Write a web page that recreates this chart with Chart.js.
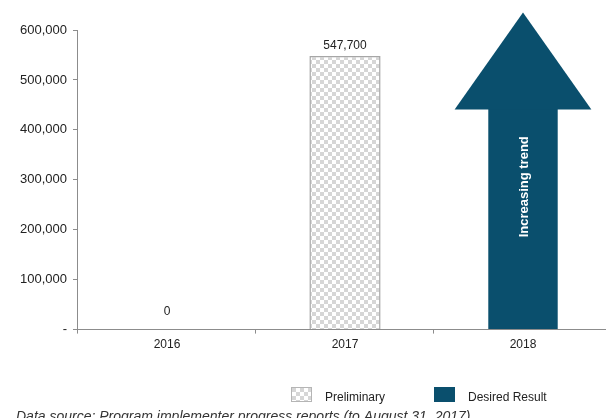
<!DOCTYPE html>
<html>
<head>
<meta charset="utf-8">
<script src="https://cdn.jsdelivr.net/npm/chart.js@4.4.1/dist/chart.umd.min.js"></script>
<style>
  html, body { margin: 0; padding: 0; background: #fff; }
  #wrap { width: 606px; height: 418px; position: relative; overflow: hidden; }
</style>
</head>
<body>
<div id="wrap"><canvas id="results-chart" width="612" height="418"></canvas></div>
<script>
// categories and values
const years = ['2016', '2017', '2018'];
const preliminary = [0, 547700, null];
const desiredShaft = [null, null, 442000];   // body of the trend arrow
const desiredHeadTop = 635000;               // tip of the trend arrow
const yTicks = [0, 100000, 200000, 300000, 400000, 500000, 600000];

const FONT = '"Liberation Sans", Arial, sans-serif';
const DARK = '#0a4f6d';

// grey / white checkerboard fill for the preliminary bars
function checkerPattern() {
    const c = document.createElement('canvas');
    c.width = 8; c.height = 8;
    const g = c.getContext('2d');
    g.fillStyle = '#ffffff';
    g.fillRect(0, 0, 8, 8);
    g.fillStyle = '#d6d6d6';
    g.fillRect(0, 0, 4, 4);
    g.fillRect(4, 4, 4, 4);
    return g.createPattern(c, 'repeat');
}
const checker = checkerPattern();

const fmt = v => v.toLocaleString('en-US');

// value labels above the preliminary bars
const valueLabels = {
    id: 'valueLabels',
    afterDatasetsDraw(chart) {
        const ctx = chart.ctx;
        const meta = chart.getDatasetMeta(0);
        ctx.save();
        ctx.font = '12px ' + FONT;
        ctx.fillStyle = '#222';
        ctx.textAlign = 'center';
        ctx.textBaseline = 'middle';
        meta.data.forEach((bar, i) => {
            const v = preliminary[i];
            if (v === null) return;
            const off = v === 0 ? 18 : 10;
            ctx.fillText(fmt(v), bar.x, bar.y - off);
        });
        ctx.restore();
    }
};

// arrow head on top of the desired-result bar, plus its caption
const trendArrow = {
    id: 'trendArrow',
    afterDatasetsDraw(chart) {
        const ctx = chart.ctx;
        const y = chart.scales.y;
        const meta = chart.getDatasetMeta(1);
        meta.data.forEach((bar, i) => {
            if (desiredShaft[i] === null) return;
            const half = bar.width / 2;
            const base = y.getPixelForValue(desiredShaft[i]);
            const tip = y.getPixelForValue(desiredHeadTop);
            ctx.save();
            ctx.fillStyle = DARK;
            ctx.beginPath();
            ctx.moveTo(bar.x - half * 1.97, base + 0.5);
            ctx.lineTo(bar.x, tip);
            ctx.lineTo(bar.x + half * 1.97, base + 0.5);
            ctx.closePath();
            ctx.fill();

            ctx.translate(bar.x + 1, y.getPixelForValue(286000));
            ctx.rotate(-Math.PI / 2);
            ctx.font = 'bold 13px ' + FONT;
            ctx.fillStyle = '#ffffff';
            ctx.textAlign = 'center';
            ctx.textBaseline = 'middle';
            ctx.fillText('Increasing trend', 0, 0);
            ctx.restore();
        });
    }
};

// legend and source note under the chart
const footer = {
    id: 'footer',
    afterDraw(chart) {
        const ctx = chart.ctx;
        ctx.save();
        const ds = chart.data.datasets;
        const items = [
            { x: 291, label: ds[0].label, fill: ds[0].backgroundColor, border: '#b5b5b5' },
            { x: 434, label: ds[1].label, fill: ds[1].backgroundColor, border: DARK }
        ];
        ctx.font = '12px ' + FONT;
        ctx.textBaseline = 'middle';
        items.forEach(it => {
            ctx.fillStyle = it.fill;
            ctx.fillRect(it.x, 387, 21, 15);
            ctx.strokeStyle = it.border;
            ctx.lineWidth = 1;
            ctx.strokeRect(it.x + 0.5, 387.5, 20, 14);
            ctx.fillStyle = '#222';
            ctx.fillText(it.label, it.x + 34, 398);
        });
        ctx.font = 'italic 14px ' + FONT;
        ctx.fillStyle = '#333';
        ctx.textBaseline = 'alphabetic';
        ctx.fillText('Data source: Program implementer progress reports (to August 31, 2017)', 16, 421);
        ctx.restore();
    }
};

new Chart(document.getElementById('results-chart').getContext('2d'), {
    type: 'bar',
    data: {
        labels: years,
        datasets: [
            {
                label: 'Preliminary',
                data: preliminary,
                backgroundColor: checker,
                borderColor: '#a6a6a6',
                borderWidth: 1.5,
                grouped: false,
                barPercentage: 0.4,
                categoryPercentage: 1
            },
            {
                label: 'Desired Result',
                data: desiredShaft,
                backgroundColor: DARK,
                borderWidth: 0,
                grouped: false,
                barPercentage: 0.39,
                categoryPercentage: 1
            }
        ]
    },
    options: {
        responsive: false,
        animation: false,
        events: [],
        layout: { padding: { top: 30, right: 0, bottom: 62, left: 14 } },
        plugins: {
            legend: { display: false },
            tooltip: { enabled: false }
        },
        scales: {
            x: {
                offset: true,
                border: { color: '#8c8c8c', width: 1 },
                grid: { offset: true, drawOnChartArea: false, tickLength: 4, color: '#8c8c8c' },
                ticks: { color: '#222', font: { family: FONT, size: 12 }, padding: 4 }
            },
            y: {
                min: 0,
                max: 600000,
                afterBuildTicks: scale => { scale.ticks = yTicks.map(v => ({ value: v })); },
                border: { color: '#8c8c8c', width: 1 },
                grid: { drawOnChartArea: false, tickLength: 5, color: '#8c8c8c' },
                ticks: {
                    color: '#222',
                    font: { family: FONT, size: 13 },
                    padding: 6,
                    callback: v => v === 0 ? '-' : fmt(v)
                }
            }
        }
    },
    plugins: [valueLabels, trendArrow, footer]
});
</script>
</body>
</html>
